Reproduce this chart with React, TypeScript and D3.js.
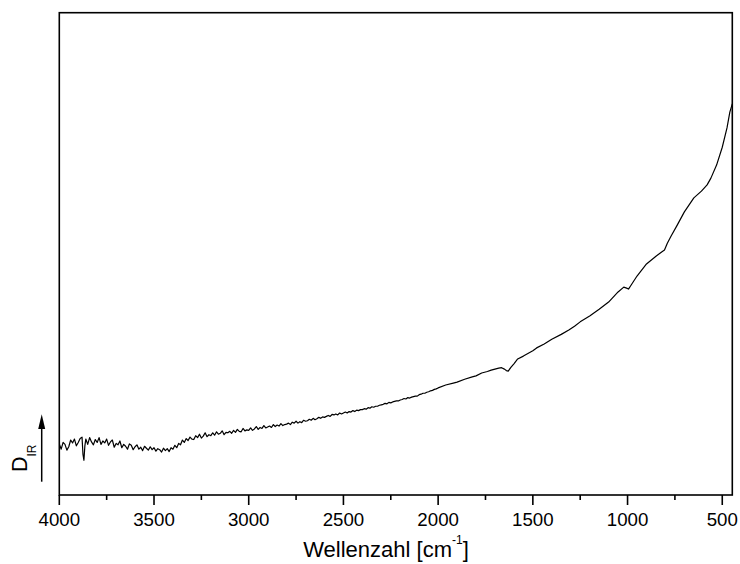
import React from "react";
import * as d3 from "d3";

// Wavenumber (cm^-1) and absorbance D_IR (arbitrary units, 0-100)
const wavenumbers: number[] = [
  4000, 3990, 3980, 3970, 3960, 3950, 3940, 3930, 3920, 3910, 3900, 3890, 3880, 3875, 3870, 3865, 3860, 3850, 3840, 3830,
  3820, 3810, 3800, 3790, 3780, 3770, 3760, 3750, 3740, 3730, 3720, 3710, 3700, 3690, 3680, 3670, 3660, 3650, 3640, 3630,
  3620, 3610, 3600, 3590, 3580, 3570, 3560, 3550, 3540, 3530, 3520, 3510, 3500, 3490, 3480, 3470, 3460, 3450, 3440, 3430,
  3420, 3410, 3400, 3390, 3380, 3370, 3360, 3350, 3340, 3330, 3320, 3310, 3300,
  3290, 3280, 3270, 3260, 3250, 3240, 3230, 3220, 3210, 3200,
  3190, 3180, 3170, 3160, 3150, 3140, 3130, 3120, 3110, 3100,
  3090, 3080, 3070, 3060, 3050, 3040, 3030, 3020, 3010, 3000,
  2990, 2980, 2970, 2960, 2950, 2940, 2930, 2920, 2910, 2900,
  2890, 2880, 2870, 2860, 2850, 2840, 2830, 2820, 2810, 2800,
  2790, 2780, 2770, 2760, 2750, 2740, 2730, 2720, 2710, 2700,
  2690, 2680, 2670, 2660, 2650, 2640, 2630, 2620, 2610, 2600,
  2590, 2580, 2570, 2560, 2550, 2540, 2530, 2520, 2510, 2500,
  2490, 2480, 2470, 2460, 2450, 2440, 2430, 2420, 2410, 2400,
  2390, 2380, 2370, 2360, 2350, 2340, 2330, 2320, 2310, 2300,
  2290, 2280, 2270, 2260, 2250, 2240, 2230, 2220, 2210, 2200,
  2190, 2180, 2170, 2160, 2150, 2140, 2130, 2120, 2110, 2100,
  2090, 2080, 2070, 2060, 2050, 2040, 2030, 2020, 2010, 2000,
  1960, 1920, 1900, 1860, 1820, 1800, 1770, 1740, 1720, 1700, 1680, 1665, 1650, 1640, 1630, 1615, 1600, 1580, 1550, 1500,
  1480, 1440, 1400, 1350, 1310, 1280, 1250, 1200, 1150, 1100, 1050, 1020, 1005, 995, 980, 950, 900, 850, 820, 805,
  790, 770, 740, 700, 650, 610, 580, 560, 530, 500, 475, 460, 447,
];

const absorbance: number[] = [
  10.6, 9.5, 10.9, 10.5, 9.3, 10.0, 11.4, 10.8, 11.6, 10.2, 10.9, 11.7, 12.0, 8.4, 7.2, 10.2, 11.6, 10.5, 11.9, 11.0,
  10.4, 11.5, 10.9, 11.9, 10.5, 11.2, 10.8, 11.6, 10.3, 11.0, 11.4, 9.9, 10.7, 10.4, 11.2, 9.8, 10.5, 10.1, 9.5, 10.6,
  10.3, 9.4, 10.0, 10.4, 9.5, 9.9, 9.2, 10.1, 9.7, 9.3, 10.0, 9.4, 9.8, 9.1, 9.6, 9.4, 8.9, 9.7, 9.2, 9.6,
  9.0, 9.8, 9.5, 10.3, 9.8, 10.7, 10.4, 11.4, 10.9, 11.7, 11.3, 12.0, 11.6,
  11.5, 12.3, 11.9, 12.6, 11.8, 12.2, 12.9, 12.1, 12.5, 12.3,
  12.9, 12.4, 13.1, 12.6, 12.8, 13.3, 12.5, 13.0, 12.9, 13.2,
  12.8, 13.4, 13.0, 13.6, 13.2, 13.1, 13.8, 13.3, 13.5, 13.4,
  13.9, 13.4, 13.7, 14.2, 13.6, 14.0, 13.8, 14.4, 13.9, 14.1,
  14.3, 14.0, 14.6, 14.2, 14.5, 14.3, 14.8, 14.4, 14.6, 14.7,
  14.9, 14.6, 15.1, 14.9, 15.3, 14.9, 15.2, 15.0, 15.5, 15.3,
  15.4, 15.7, 15.5, 15.9, 15.6, 15.8, 16.1, 15.9, 16.2, 16.1,
  16.3, 16.5, 16.3, 16.7, 16.6, 16.8, 16.6, 17.0, 16.8, 17.0,
  17.2, 17.0, 17.3, 17.2, 17.5, 17.3, 17.6, 17.5, 17.7, 17.7,
  17.9, 17.8, 18.1, 18.0, 18.3, 18.2, 18.4, 18.4, 18.6, 18.7,
  18.8, 19.0, 18.9, 19.2, 19.1, 19.3, 19.4, 19.5, 19.5, 19.7,
  19.8, 20.0, 19.9, 20.2, 20.1, 20.3, 20.4, 20.5, 20.5, 20.8,
  20.9, 21.1, 21.1, 21.3, 21.4, 21.6, 21.7, 21.9, 22.0, 22.2,
  22.8, 23.2, 23.4, 24.0, 24.5, 24.7, 25.3, 25.6, 25.9, 26.1, 26.3, 26.4, 26.1, 25.8, 25.7, 26.5, 27.2, 28.2, 28.8, 29.9,
  30.5, 31.3, 32.3, 33.3, 34.2, 35.0, 35.9, 37.1, 38.5, 40.0, 42.1, 43.1, 42.9, 42.7, 43.6, 45.4, 47.9, 49.5, 50.4, 50.8,
  52.2, 53.7, 55.8, 58.7, 61.6, 63.0, 64.3, 65.7, 68.4, 72.1, 76.1, 79.4, 81.1,
];

const majorTicks: number[] = [4000, 3500, 3000, 2500, 2000, 1500, 1000, 500];
const minorTicks: number[] = [3750, 3250, 2750, 2250, 1750, 1250, 750];

const xDomain: [number, number] = [4000, 447];
const yDomain: [number, number] = [0, 100];

export default function App() {
  const left = 59.3;
  const right = 732.3;
  const top = 12.7;
  const bottom = 495;

  const x = d3.scaleLinear().domain(xDomain).range([left, right]);
  const y = d3.scaleLinear().domain(yDomain).range([bottom, top]);

  const pts: [number, number][] = wavenumbers.map((w, i) => [w, absorbance[i]]);
  const line = d3
    .line<[number, number]>()
    .x((d) => x(d[0]))
    .y((d) => y(d[1]));

  const font = "'Liberation Sans', Arial, sans-serif";

  return (
    <svg
      width={740}
      height={564}
      style={{ position: "absolute", left: 0, top: 0, background: "#fff" }}
      fontFamily={font}
    >
      <rect x={0} y={0} width={740} height={564} fill="#fff" />
      <defs>
        <clipPath id="plotClip">
          <rect x={left} y={top} width={right - left} height={bottom - top} />
        </clipPath>
      </defs>
      <path
        d={line(pts) || ""}
        fill="none"
        stroke="#000"
        strokeWidth={1.2}
        strokeLinejoin="round"
        clipPath="url(#plotClip)"
      />
      <rect
        x={left}
        y={top}
        width={right - left}
        height={bottom - top}
        fill="none"
        stroke="#000"
        strokeWidth={1.6}
      />
      {majorTicks.map((t) => (
        <g key={"M" + t}>
          <line x1={x(t)} x2={x(t)} y1={bottom} y2={bottom + 10} stroke="#000" strokeWidth={1.6} />
          <text x={x(t)} y={526} textAnchor="middle" fontSize={18.7} fill="#000">
            {t}
          </text>
        </g>
      ))}
      {minorTicks.map((t) => (
        <line key={"m" + t} x1={x(t)} x2={x(t)} y1={bottom} y2={bottom + 5} stroke="#000" strokeWidth={1.6} />
      ))}
      <text x={386} y={557} textAnchor="middle" fontSize={22} fill="#000">
        Wellenzahl [cm
        <tspan fontSize={12} dy={-13}>-1</tspan>
        <tspan dy={13}>]</tspan>
      </text>
      <text transform="translate(26.7,472) rotate(-90)" fontSize={21.5} fill="#000">
        D<tspan fontSize={12} dy={9}>IR</tspan>
      </text>
      <line x1={41.7} x2={41.7} y1={481.7} y2={428} stroke="#000" strokeWidth={1.5} />
      <path d="M41.7,414.3 L38.2,429 L45.2,429 Z" fill="#000" />
    </svg>
  );
}
